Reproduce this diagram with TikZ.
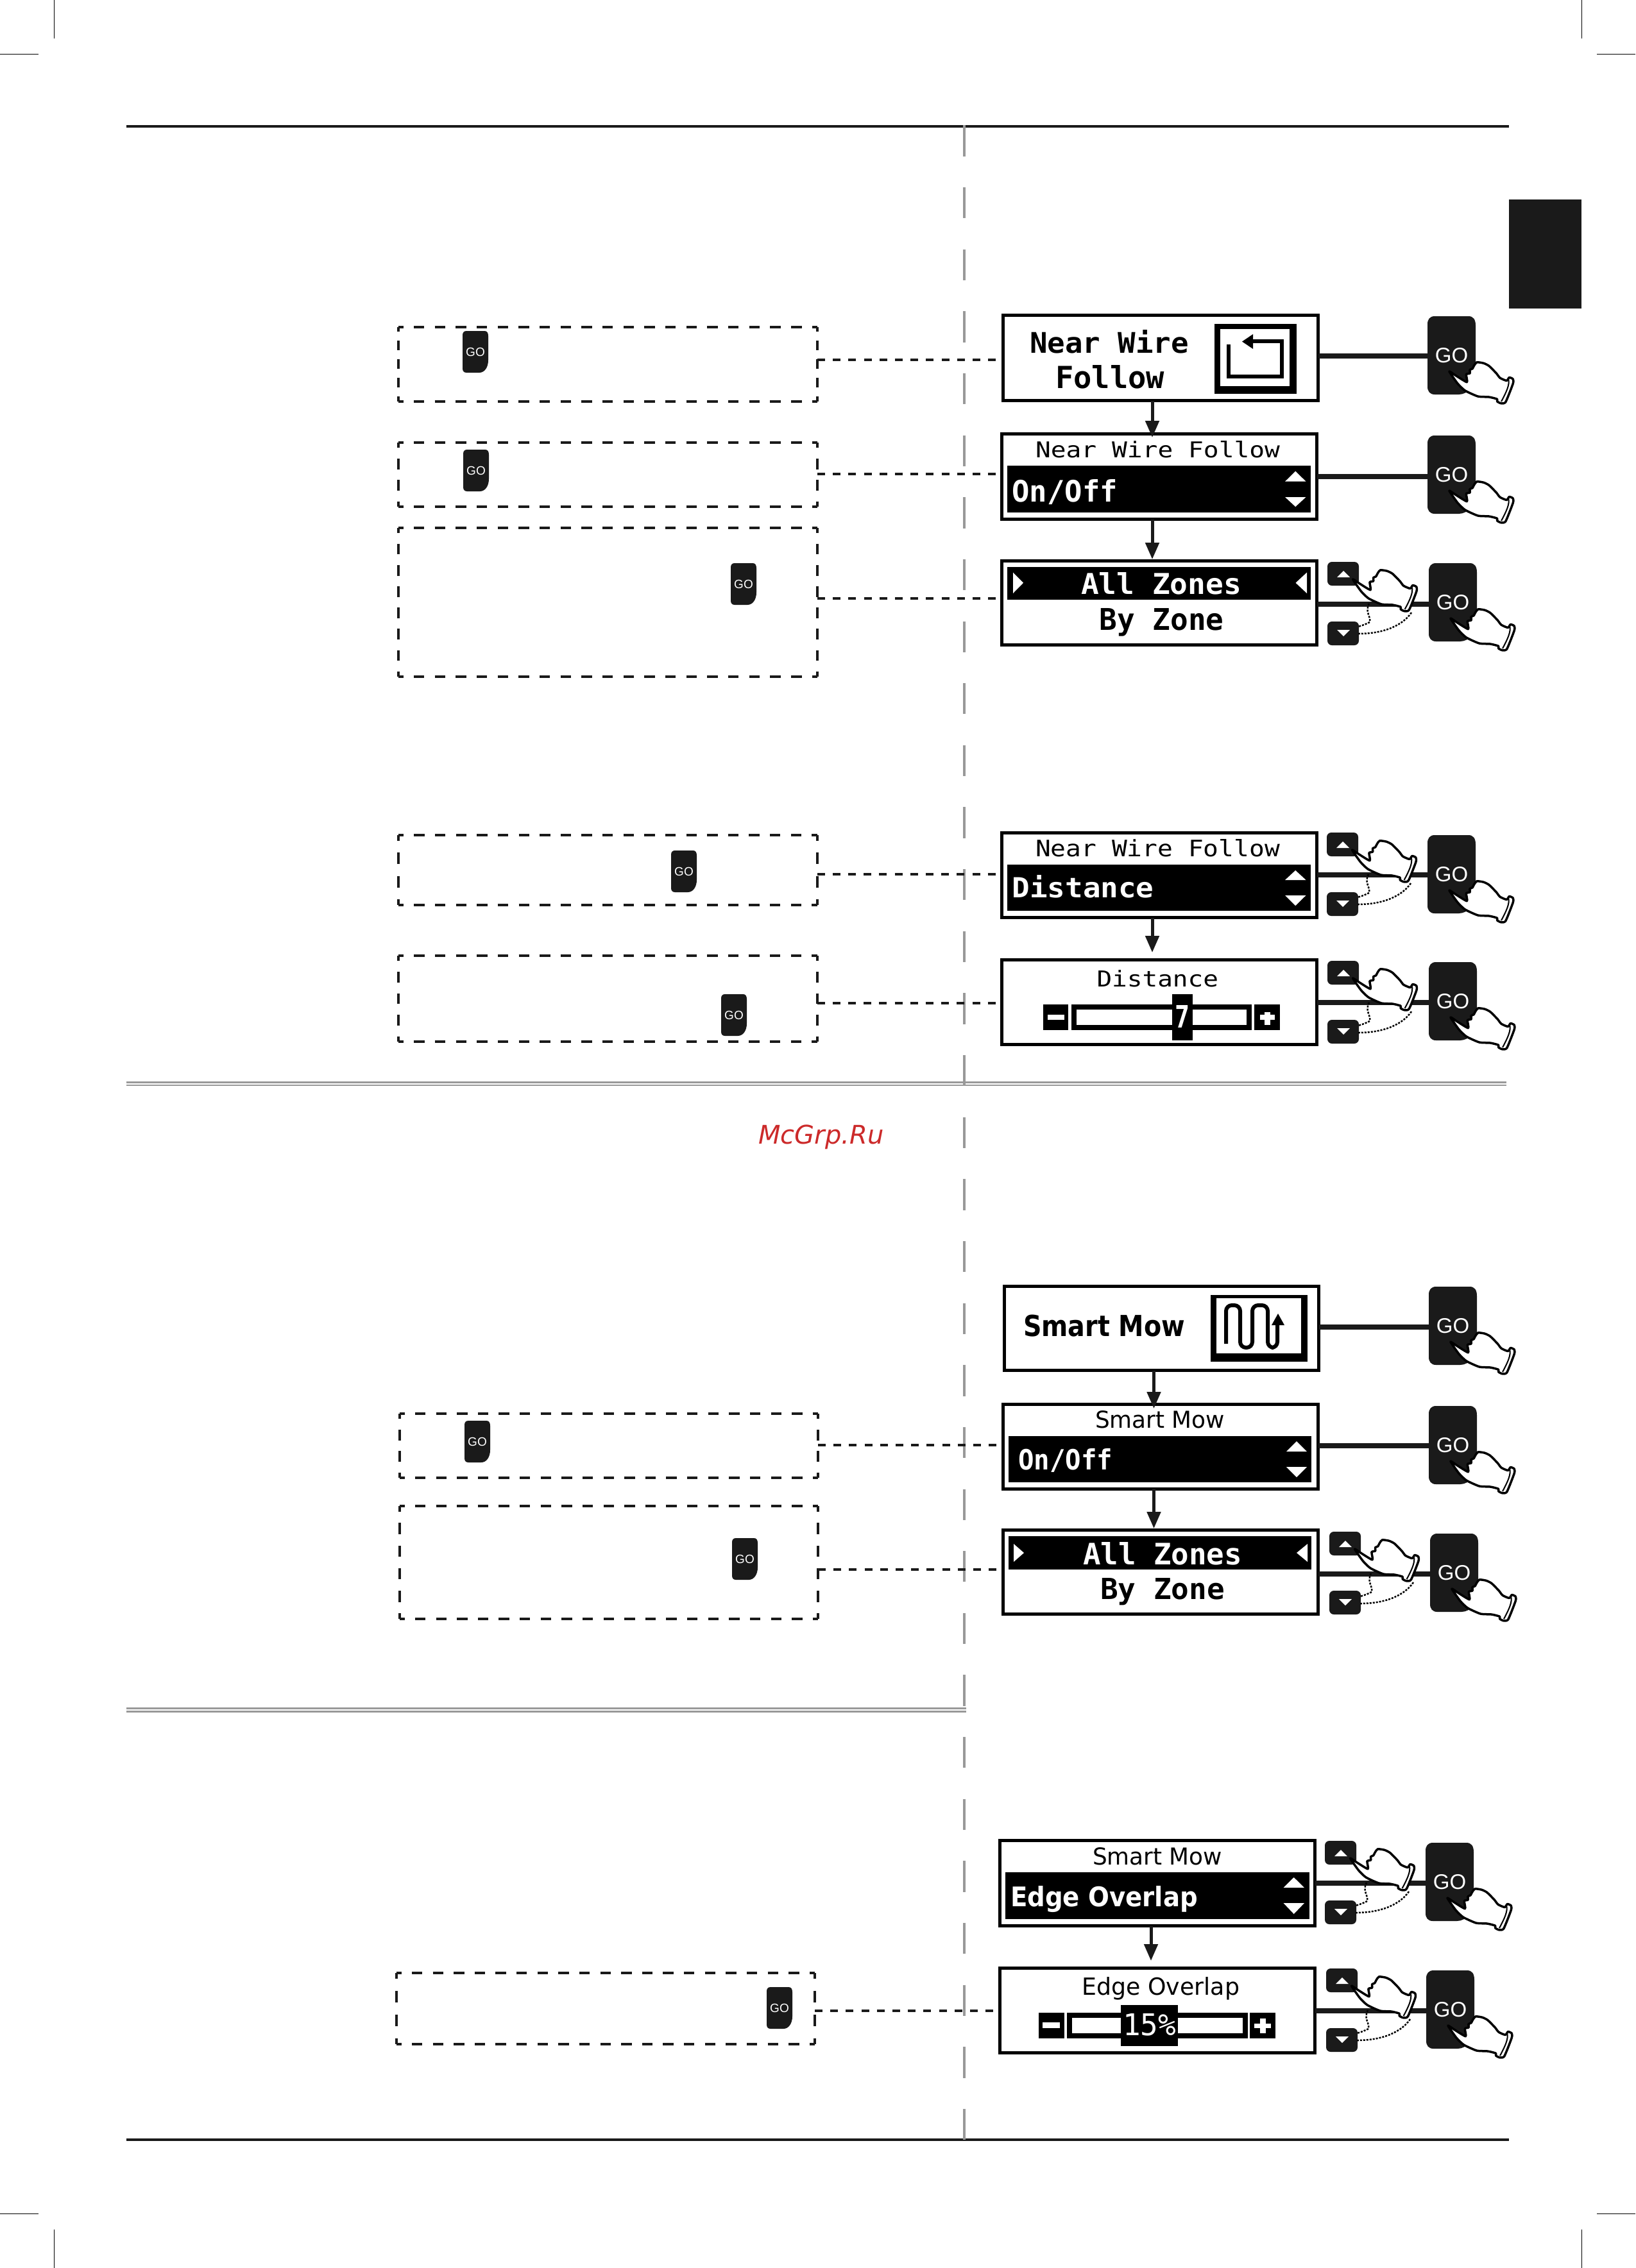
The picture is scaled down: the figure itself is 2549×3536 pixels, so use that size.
\documentclass[tikz,border=0pt]{standalone}
\usepackage{fontspec}
\usepackage{graphicx}
\usetikzlibrary{arrows.meta}
\setmainfont{Liberation Sans}
\newfontfamily\lcdb{DejaVu Sans Mono}[BoldFont={DejaVu Sans Mono Bold}]
\newfontfamily\lcdp{DejaVu Sans}
\definecolor{ink}{HTML}{1A1A1A}
\definecolor{rulegray}{HTML}{999999}
\definecolor{wm}{HTML}{CC2A2A}
\tikzset{
  screen/.style={draw=black,fill=white,line width=5pt,inner sep=0pt,outer sep=0pt},
  golinkst/.style={draw=ink,line width=8pt},
  dashlinkst/.style={draw=ink,line width=4pt,dash pattern=on 12pt off 12.2pt},
  dashedge/.style={draw=ink,line width=4pt},
  flowst/.style={draw=ink,line width=5pt,-{Triangle[length=26pt,width=21pt]}},
  padbtn/.style={fill=ink,rounded corners=7pt,inner sep=0pt,outer sep=0pt,minimum width=49pt,minimum height=37pt},
  handst/.style={draw=black,fill=white,line width=3.5pt,line join=round},
  ghost/.style={draw=black,line width=2.5pt,dash pattern=on 3pt off 2pt},
  gray rule/.style={draw=rulegray,line width=2.7pt},
  crop/.style={draw=black,line width=1.2pt},
}
% hand, origin = top-left of the GO key it presses
\newcommand{\handat}[2]{%
  \begin{scope}[shift={(#1,#2)}]
    \draw[handst] plot[smooth cycle,tension=0.35] coordinates{(33.9,86.1)(47,105)(58.6,116)(78.6,125)(95.9,126)(108.5,129.2)(108.5,132.8)(114.2,135.7)(121.7,133.9)(133.2,105.2)(133.2,98)(127.4,95.5)(123.4,100.5)(113,96.2)(107.3,89)(95.9,77.5)(87.3,73.2)(76.9,71.8)(72.9,76.5)(70,81.8)(66,83.6)(66,89)(60.3,90.8)(61.4,102.7)(44.2,92.6)};
    \draw[black,line width=2pt] (126,98) .. controls (129,106) and (122,120) .. (115,133);
  \end{scope}}
% GO key: name,x,y,w,h,font size
\newcommand{\gokey}[6]{%
  \begin{scope}[shift={(#2,#3)},xscale=#4/100,yscale=#5/100]
    \fill[ink] (15,0) -- (85,0) .. controls (95,0) and (100,4) .. (100,12) -- (100,70) .. controls (100,88) and (85,100) .. (65,100) -- (15,100) .. controls (5,100) and (0,96) .. (0,90) -- (0,10) .. controls (0,4) and (5,0) .. (15,0) -- cycle;
  \end{scope}
  \node[text=white,inner sep=0pt,outer sep=0pt,minimum width=#4pt,minimum height=#5pt] (#1) at ({#2+#4/2},{#3+#5/2}) {\fontsize{#6}{#6}\selectfont GO};}
\newcommand{\bigkey}[3]{\gokey{#1}{#2}{#3}{75}{122}{33}\handat{#2}{#3}}
% up/down pad: name,x,yup,ydown
\newcommand{\updown}[4]{%
  \node[padbtn] (#1u) at ({#2+24.5},{#3+18.5}) {};
  \node[padbtn] (#1d) at ({#2+24.5},{#4+18.5}) {};
  \fill[white] ({#2+15},{#3+24}) -- ({#2+25},{#3+14}) -- ({#2+35},{#3+24}) -- cycle;
  \fill[white] ({#2+15},{#4+13}) -- ({#2+25},{#4+23}) -- ({#2+35},{#4+13}) -- cycle;
  \draw[ghost] ({#2+65},{#3+65}) .. controls ({#2+58},{#3+78}) and ({#2+68},{#3+85}) .. ({#2+66},{#3+94}) .. controls ({#2+60},{#3+97}) and ({#2+55},{#3+99}) .. ({#2+48},{#3+101});
  \draw[ghost] ({#2+131},{#3+79}) .. controls ({#2+118},{#3+98}) and ({#2+90},{#3+112}) .. ({#2+48},{#3+112});
  \handat{#2+5.6}{#3-59}}
% screen: name,x1,y1,x2,y2
\newcommand{\screenbox}[5]{\node[screen,minimum width={(#4-#2)*1pt},minimum height={(#5-#3)*1pt}] (#1) at ({(#2+#4)/2},{(#3+#5)/2}) {};}
% text fitted: name,left,baseline,width,height,colour,font,text
\newcommand{\lcd}[8]{\node[anchor=base west,inner sep=0pt,outer sep=0pt,text=#6] (#1) at (#2,#3) {\resizebox{#4pt}{#5pt}{#7#8}};}
\newcommand{\tri}[6]{\fill[white] (#1,#2) -- (#3,#4) -- (#5,#6) -- cycle;}
% dashed box: name,x1,y1,x2,y2,dashes on a vertical side
\newcommand{\notebox}[6]{%
  \node[inner sep=0pt,outer sep=0pt,minimum width={(#4-#2)*1pt},minimum height={(#5-#3)*1pt}] (#1) at ({(#2+#4)/2},{(#3+#5)/2}) {};
  \pgfmathsetmacro\hq{(#4-#2)/40}\pgfmathsetmacro\hh{\hq/2}
  \pgfmathsetmacro\vq{(#5-#3)/(#6+1)/2}\pgfmathsetmacro\vh{\vq/2}
  \draw[dashedge,dash pattern=on \hq pt off \hq pt,dash phase=\hh pt] (#1.north west) -- (#1.north east);
  \draw[dashedge,dash pattern=on \hq pt off \hq pt,dash phase=\hh pt] (#1.south west) -- (#1.south east);
  \draw[dashedge,dash pattern=on \vq pt off \vq pt,dash phase=\vh pt] (#1.north west) -- (#1.south west);
  \draw[dashedge,dash pattern=on \vq pt off \vq pt,dash phase=\vh pt] (#1.north east) -- (#1.south east);}
\newcommand{\golink}[3]{\draw[golinkst] (#1.east |- 0,#3) -- (#2.west |- 0,#3);}
\newcommand{\notelink}[3]{\draw[dashlinkst] (#1.east |- 0,#3) -- (#2.west |- 0,#3);}
\newcommand{\flow}[4]{\coordinate (#1#2x) at (#3,0); \draw[flowst,shorten >=#4pt] (#1.south -| #1#2x) -- (#2.north -| #1#2x);}
\begin{document}
\begin{tikzpicture}[x=1pt,y=-1pt]
\useasboundingbox (0,0) rectangle (2549,3536);
\fill[white] (0,0) rectangle (2549,3536);
% crop marks
\coordinate (c1a) at (84.5,0); \coordinate (c1b) at (84.5,60);
\coordinate (c2a) at (0,84.7); \coordinate (c2b) at (60,84.7);
\coordinate (c3a) at (2465.3,0); \coordinate (c3b) at (2465.3,60);
\coordinate (c4a) at (2489,84.7); \coordinate (c4b) at (2549,84.7);
\coordinate (c5a) at (0,3451.3); \coordinate (c5b) at (60,3451.3);
\coordinate (c6a) at (84.5,3476); \coordinate (c6b) at (84.5,3536);
\coordinate (c7a) at (2465.3,3476); \coordinate (c7b) at (2465.3,3536);
\coordinate (c8a) at (2489,3451.3); \coordinate (c8b) at (2549,3451.3);
\foreach \k in {1,...,8}{\draw[crop] (c\k a) -- (c\k b);}
% page rules and tab
\coordinate (tl) at (197,197); \coordinate (tr) at (2352,197);
\coordinate (bl) at (197,3336); \coordinate (br) at (2352,3336);
\draw[ink,line width=4pt] (tl) -- (tr);
\draw[ink,line width=4pt] (bl) -- (br);
\coordinate (v1) at (1503,195.4); \coordinate (v2) at (1503,3336);
\draw[rulegray,line width=3.6pt,dash pattern=on 48.3pt off 48.34pt] (v1) -- (v2);
\coordinate (d1a) at (197,1687.7); \coordinate (d1b) at (2348,1687.7);
\coordinate (d2a) at (197,1692); \coordinate (d2b) at (2348,1692);
\coordinate (d3a) at (197,2663.5); \coordinate (d3b) at (1505.5,2663.5);
\coordinate (d4a) at (197,2668.5); \coordinate (d4b) at (1505.5,2668.5);
\draw[gray rule] (d1a) -- (d1b); \draw[gray rule] (d2a) -- (d2b);
\draw[gray rule] (d3a) -- (d3b); \draw[gray rule] (d4a) -- (d4b);
\fill[ink] (2352,311) rectangle (2465,481);
\node[anchor=base west,inner sep=0pt,text=wm] (wmark) at (1182,1783) {\fontsize{40}{48}\selectfont\lcdp\itshape McGrp.Ru};
% screens
\screenbox{R1}{1563.5}{491.5}{2054.5}{624.5}
\screenbox{R2}{1561.5}{676.5}{2052.5}{809.5}
\screenbox{R3}{1561.5}{874.5}{2052.5}{1005.5}
\screenbox{R4}{1561.5}{1298.5}{2052.5}{1430.5}
\screenbox{R5}{1561.5}{1496.5}{2052.5}{1628.5}
\screenbox{R6}{1565.5}{2005.5}{2055.5}{2136.5}
\screenbox{R7}{1563.5}{2189.5}{2054.5}{2321}
\screenbox{R8}{1563.5}{2385.5}{2054.5}{2516.5}
\screenbox{R9}{1558.5}{2869.5}{2049.5}{3002.5}
\screenbox{R10}{1558.5}{3068.5}{2049.5}{3200.5}
% black bars
\fill[black] (1570,726) rectangle (2043,799);
\fill[black] (1570,883.5) rectangle (2043,935);
\fill[black] (1570,1348) rectangle (2043,1420);
\fill[black] (1572,2239) rectangle (2044,2311);
\fill[black] (1572,2395) rectangle (2044,2447);
\fill[black] (1567,2919) rectangle (2041,2992);
% R1
\lcd{t1a}{1605}{550}{248}{36}{black}{\lcdb\bfseries}{Near Wire}
\lcd{t1b}{1645}{605}{170}{36}{black}{\lcdb\bfseries}{Follow}
\fill[black] (1893,505) rectangle (2021,614);
\fill[white] (1902,513) rectangle (2010,602);
\draw[black,line width=6pt] (1914.5,537) -- (1914.5,587) -- (1998,587) -- (1998,532) -- (1950,532);
\fill[black] (1936,532.5) -- (1953,521) -- (1953,544) -- cycle;
% R2
\lcd{t2a}{1614}{713}{381}{26}{black}{\lcdb}{Near Wire Follow}
\lcd{t2b}{1577.5}{782}{164.5}{35}{white}{\lcdb\bfseries}{On/Off}
\tri{2003}{750.7}{2019.2}{734.6}{2035.5}{750.7}
\tri{2003}{775}{2019.2}{790}{2035.5}{775}
% R3
\tri{1579}{892.5}{1595}{908.7}{1579}{925}
\tri{2037}{892.5}{2019.5}{908.7}{2037}{925}
\lcd{t3a}{1685}{926.5}{250}{34}{white}{\lcdb\bfseries}{All Zones}
\lcd{t3b}{1713.5}{982}{194}{34}{black}{\lcdb\bfseries}{By Zone}
% R4
\lcd{t4a}{1614}{1335}{381}{27}{black}{\lcdb}{Near Wire Follow}
\lcd{t4b}{1577.5}{1399}{221}{35}{white}{\lcdb\bfseries}{Distance}
\tri{2003}{1372}{2019.2}{1357}{2035.5}{1372}
\tri{2003}{1396}{2019.2}{1412}{2035.5}{1396}
% R5
\lcd{t5a}{1709.5}{1538}{189.5}{26}{black}{\lcdb}{Distance}
\fill[black] (1626,1566) rectangle (1665,1606);
\fill[black] (1955,1566) rectangle (1995,1606);
\draw[black,line width=8pt,fill=white] (1674,1570) rectangle (1947,1602);
\fill[black] (1827,1550) rectangle (1859,1622);
\fill[white] (1633,1582) rectangle (1658.5,1590);
\fill[white] (1964,1582) rectangle (1987,1590);
\fill[white] (1971,1578) rectangle (1980,1598);
\lcd{t5b}{1831}{1602}{23}{35}{white}{\lcdb\bfseries}{7}
% R6
\lcd{t6a}{1595}{2083.5}{252}{33.5}{black}{\lcdp\bfseries}{Smart Mow}
\fill[black] (1887,2019) rectangle (2038,2123);
\fill[white] (1896,2024) rectangle (2028,2110);
\draw[black,line width=6pt,rounded corners=9pt] (1911,2095) -- (1911,2035) -- (1933,2035) -- (1933,2101) -- (1952,2101) -- (1952,2035) -- (1976,2035) -- (1976,2101) -- (1991,2101) -- (1991,2060);
\fill[black] (1992,2048) -- (2002,2066) -- (1982,2066) -- cycle;
% R7
\lcd{t7a}{1707}{2226.4}{202}{27}{black}{\lcdp}{Smart Mow}
\lcd{t7b}{1587}{2291}{147}{33}{white}{\lcdb\bfseries}{On/Off}
\tri{2005}{2263}{2021}{2247}{2037}{2263}
\tri{2005}{2287}{2021}{2303}{2037}{2287}
% R8
\tri{1580}{2407}{1596}{2421}{1580}{2435}
\tri{2038}{2407}{2021}{2421}{2038}{2435}
\lcd{t8a}{1688}{2439}{248}{35}{white}{\lcdb\bfseries}{All Zones}
\lcd{t8b}{1715}{2493}{194}{33}{black}{\lcdb\bfseries}{By Zone}
% R9
\lcd{t9a}{1703}{2907}{202}{27}{black}{\lcdp}{Smart Mow}
\lcd{t9b}{1575}{2972}{292}{32}{white}{\lcdp\bfseries}{Edge Overlap}
\tri{2000.5}{2943}{2016.7}{2927}{2033}{2943}
\tri{2000.5}{2967}{2016.7}{2984}{2033}{2967}
% R10
\lcd{t10a}{1686.5}{3110}{245.5}{28}{black}{\lcdp}{Edge Overlap}
\fill[black] (1619,3138) rectangle (1659,3178);
\fill[black] (1948,3138) rectangle (1988,3178);
\draw[black,line width=8pt,fill=white] (1667,3142) rectangle (1941,3174);
\fill[black] (1747,3126) rectangle (1836,3190);
\fill[white] (1625,3153) rectangle (1652,3162);
\fill[white] (1955,3155) rectangle (1981,3162);
\fill[white] (1964,3147) rectangle (1972.5,3170);
\lcd{t10b}{1750}{3173}{83}{34}{white}{\lcdb}{15\%}
% flow arrows
\flow{R1}{R2}{1796}{-5.5}
\flow{R2}{R3}{1796}{2.5}
\flow{R4}{R5}{1796}{11.5}
\flow{R6}{R7}{1798.5}{-6.5}
\flow{R7}{R8}{1798.5}{2.5}
\flow{R9}{R10}{1794}{11.5}
% GO keys with their pressing hands
\bigkey{G1}{2225}{493}
\bigkey{G2}{2225}{679}
\bigkey{G3}{2227}{878}
\bigkey{G4}{2225}{1302}
\bigkey{G5}{2227}{1500}
\bigkey{G6}{2227}{2006}
\bigkey{G7}{2227}{2192}
\bigkey{G8}{2229}{2391}
\bigkey{G9}{2222}{2873}
\bigkey{G10}{2223}{3072}
% screen to key connectors
\golink{R1}{G1}{555}
\golink{R2}{G2}{743}
\golink{R3}{G3}{942}
\golink{R4}{G4}{1364}
\golink{R5}{G5}{1563}
\golink{R6}{G6}{2068.5}
\golink{R7}{G7}{2254}
\golink{R8}{G8}{2454}
\golink{R9}{G9}{2936}
\golink{R10}{G10}{3135}
% up/down keys, drawn over the connectors
\updown{P3}{2069}{876}{969}
\updown{P4}{2068}{1298}{1391}
\updown{P5}{2069}{1498}{1590}
\updown{P8}{2072}{2388}{2480}
\updown{P9}{2065}{2870}{2963}
\updown{P10}{2067}{3069}{3162}
% dashed note boxes
\notebox{NA}{620.5}{509.5}{1274}{625.5}{3}
\notebox{NB}{620.5}{690}{1274}{790}{2}
\notebox{NC}{620.5}{823}{1274}{1055}{6}
\notebox{ND}{621}{1302}{1273.5}{1411}{2}
\notebox{NE}{621}{1490}{1273.5}{1624}{3}
\notebox{NF}{622.5}{2204}{1275}{2304}{2}
\notebox{NG}{622.5}{2348}{1275}{2524}{4}
\notebox{NH}{617.5}{3076}{1270}{3187}{2}
\gokey{KA}{721}{516}{40}{65}{19}
\gokey{KB}{722}{701}{40}{65}{19}
\gokey{KC}{1139}{878}{40}{65}{19}
\gokey{KD}{1046}{1326}{40}{65}{19}
\gokey{KE}{1124}{1550}{40}{65}{19}
\gokey{KF}{724}{2215}{40}{65}{19}
\gokey{KG}{1141}{2398}{40}{65}{19}
\gokey{KH}{1195}{3098}{40}{65}{19}
\notelink{NA}{R1}{561}
\notelink{NB}{R2}{739}
\notelink{NC}{R3}{933}
\notelink{ND}{R4}{1363}
\notelink{NE}{R5}{1563.5}
\notelink{NF}{R7}{2252.7}
\notelink{NG}{R8}{2447}
\notelink{NH}{R10}{3135}
\end{tikzpicture}
\end{document}
